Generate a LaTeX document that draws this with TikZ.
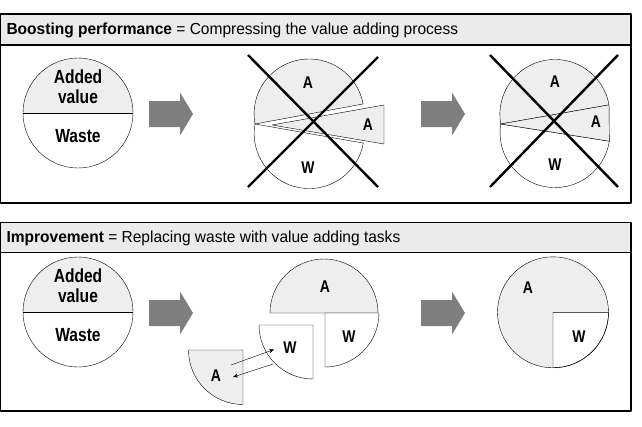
\documentclass[tikz,border=0pt]{standalone}
\usepackage{fontspec}
\setmainfont{Liberation Sans}
\newfontfamily\narrowfont[FakeStretch=0.82]{Liberation Sans}
\newfontfamily\titlefont[FakeStretch=0.97]{Liberation Sans}
\usetikzlibrary{arrows.meta}
\usetikzlibrary{calc}
\definecolor{colorPanel}{HTML}{EBEBEB}
\definecolor{colorPie}{HTML}{EEEEEE}
\definecolor{colorArrow}{HTML}{7F7F7F}
\def\colorPanel{colorPanel}
\def\colorPie{colorPie}
\def\colorArrow{colorArrow}

\begin{document}
\begin{tikzpicture}[x=1pt, y=-1pt, line join=round,
  piebig/.style={font=\narrowfont\bfseries\fontsize{19}{20}\selectfont, align=center},
  pielab/.style={font=\narrowfont\bfseries\fontsize{17}{18}\selectfont},
  crossline/.style={line width=2.4pt},
  paneltitle/.style={anchor=west, font=\titlefont\fontsize{16}{18}\selectfont}]

  \useasboundingbox (0,0) rectangle (642,426);

  % bloc fleche grise
  \newcommand{\blockarrow}[1]{\fill[\colorArrow] #1 ++(0,-13) -- ++(31,0) -- ++(0,-8.5)
    -- ++(13,21.5) -- ++(-13,21.5) -- ++(0,-8.5) -- ++(-31,0) -- cycle;}

  % Cadres
  \fill[\colorPanel] (0.7,14) rectangle (631,45);
  \draw[line width=1.2pt] (0.7,14) rectangle (631,203);
  \draw[line width=1.2pt] (0.7,45) -- (631,45);
  \node[paneltitle] (titleTop) at (3,30) {\textbf{Boosting performance} = Compressing the value adding process};

  \fill[\colorPanel] (0.7,222.7) rectangle (631,252.7);
  \draw[line width=1.2pt] (0.7,222.7) rectangle (631,411);
  \draw[line width=1.2pt] (0.7,252.7) -- (631,252.7);
  \node[paneltitle] (titleBot) at (3,238) {\textbf{Improvement} = Replacing waste with value adding tasks};

  % Partie haute : cercle de depart
  \coordinate (startTop) at (78,113);
  \fill[\colorPie] ([xshift=-55pt]startTop) arc[start angle=180, end angle=0, radius=55pt] -- cycle;
  \draw (startTop) circle[radius=55pt];
  \draw ([xshift=-55pt]startTop) -- ([xshift=55pt]startTop);
  \node[piebig] (addedTop) at (78,86.5) {Added\\value};
  \node[piebig] (wasteTop) at (78,136) {Waste};

  \blockarrow{(149,114)}
  \blockarrow{(421,114)}

  % cercle ouvert
  \coordinate (pivA) at (255,124);
  \filldraw[fill=\colorPie] (pivA) arc[start angle=190.5, end angle=10.5, radius=55pt] -- cycle;
  \filldraw[fill=white] (pivA) arc[start angle=170, end angle=350, radius=55pt] -- cycle;
  \filldraw[fill=\colorPie] (272,125) -- (384,105) -- (384,144) -- cycle;
  \node[pielab] (aTopA) at (308,83) {A};
  \node[pielab] (aWedgeA) at (368,125) {A};
  \node[pielab] (wTopA) at (308,168) {W};
  \draw[crossline] (248,55) -- (378,187);
  \draw[crossline] (378,57) -- (248,187);

  % cercle avec coin
  \coordinate (pivB) at (500.7,124);
  \filldraw[fill=\colorPie] (pivB) arc[start angle=190, end angle=10, radius=55pt] -- cycle;
  \filldraw[fill=white] (pivB) arc[start angle=171, end angle=351, radius=55pt] -- cycle;
  \filldraw[fill=\colorPie] (pivB) -- ($(pivB)+(10:110pt)$) -- ($(pivB)+(-9:110pt)$) -- cycle;
  \node[pielab] (aTopB) at (555,82) {A};
  \node[pielab] (aWedgeB) at (596,122) {A};
  \node[pielab] (wTopB) at (555,165) {W};
  \draw[crossline] (490,55) -- (618,187);
  \draw[crossline] (618,55) -- (490,187);

  % Partie basse
  \coordinate (startBot) at (78,312);
  \fill[\colorPie] ([xshift=-55pt]startBot) arc[start angle=180, end angle=0, radius=55pt] -- cycle;
  \draw (startBot) circle[radius=55pt];
  \draw ([xshift=-55pt]startBot) -- ([xshift=55pt]startBot);
  \node[piebig] (addedBot) at (78,285.5) {Added\\value};
  \node[piebig] (wasteBot) at (78,335.5) {Waste};

  \blockarrow{(149,313)}
  \blockarrow{(421,313)}

  % demi-cercle et quarts
  \filldraw[fill=\colorPie] (270,313) arc[start angle=180, end angle=0, radius=54pt] -- cycle;
  \filldraw[fill=white] (325,313) -- (325,367) arc[start angle=270, end angle=360, radius=54pt] -- cycle;
  \filldraw[fill=white] (313,325) -- (259,325) arc[start angle=180, end angle=270, radius=54pt] -- cycle;
  \filldraw[fill=\colorPie] (243,350) -- (188.5,350) arc[start angle=180, end angle=270, radius=54.5pt] -- cycle;
  \node[pielab] (aHalf) at (325,287) {A};
  \node[pielab] (wQuarter) at (349,337) {W};
  \node[pielab] (wLoose) at (290,348) {W};
  \node[pielab] (aLoose) at (216,376) {A};

  \coordinate (swapA1) at (231,365);
  \coordinate (swapW1) at (274,349.5);
  \coordinate (swapW2) at (273,364);
  \coordinate (swapA2) at (233,377);
  \draw[-{Stealth[length=5pt,width=4pt]}] (swapA1) -- (swapW1);
  \draw[-{Stealth[length=5pt,width=4pt]}] (swapW2) -- (swapA2);

  % cercle final
  \coordinate (endBot) at (553,312.3);
  \fill[\colorPie] (endBot) circle[radius=55.5pt];
  \filldraw[fill=white] (endBot) -- ([xshift=55.5pt]endBot) arc[start angle=0, end angle=-90, radius=55.5pt] -- cycle;
  \draw (endBot) circle[radius=55.5pt];
  \node[pielab] (aEnd) at (528,288) {A};
  \node[pielab] (wEnd) at (579,337) {W};

\end{tikzpicture}
\end{document}
